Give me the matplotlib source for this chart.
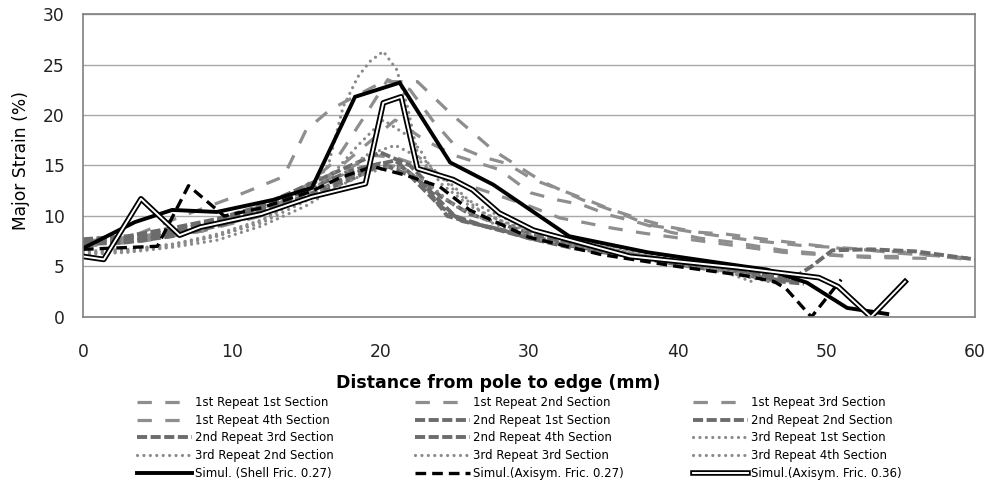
import matplotlib
matplotlib.use("Agg")
import matplotlib.pyplot as plt
import matplotlib.patheffects as pe

plt.rcParams['font.family'] = ['DejaVu Sans']

# ---- data ----
labels = ["1st Repeat 1st Section", "1st Repeat 2nd Section", "1st Repeat 3rd Section",
          "1st Repeat 4th Section", "2nd Repeat 1st Section", "2nd Repeat 2nd Section",
          "2nd Repeat 3rd Section", "2nd Repeat 4th Section", "3rd Repeat 1st Section",
          "3rd Repeat 2nd Section", "3rd Repeat 3rd Section", "3rd Repeat 4th Section",
          "Simul. (Shell Fric. 0.27)", "Simul.(Axisym. Fric. 0.27)", "Simul.(Axisym. Fric. 0.36)"]

r1s1_x = [0, 3, 6.5, 10, 13.5, 15, 16.6, 18.5, 20.2, 22.5, 24.7, 27.6, 30.9, 33.6, 35.9, 38.1, 41.5, 44.9, 48.2, 51.6, 55, 60]
r1s1_y = [7.0, 7.8, 9.9, 11.8, 13.9, 18.5, 20.5, 22.0, 23.3, 23.3, 20.2, 16.5, 13.4, 11.6, 10.4, 9.1, 8.3, 7.6, 7.1, 6.8, 6.3, 5.8]
r1s2_x = [0, 4, 8, 12, 15, 17, 19, 20.5, 22, 23.5, 25, 27, 28.5, 30.3, 32.1, 33.9, 35.6, 37.7, 39.5, 41.3, 43.3, 46.4, 50.9, 55.4, 60]
r1s2_y = [7.5, 8.0, 9.0, 11.0, 13.0, 15.5, 20.0, 23.5, 22.5, 19.5, 17.0, 15.8, 15.2, 13.6, 12.6, 11.6, 10.6, 9.6, 8.9, 8.4, 8.2, 7.6, 6.8, 6.4, 5.6]
r1s3_x = [0, 4, 8, 12, 15, 17, 19, 21, 23, 25, 28, 30.1, 31.9, 33.6, 35.4, 37.5, 39.5, 41.5, 43.7, 47.1, 50.9, 53.1, 55]
r1s3_y = [7.2, 7.8, 8.5, 10.5, 12.5, 14.5, 17.0, 19.5, 17.5, 16.0, 14.6, 12.3, 11.6, 11.1, 10.1, 9.3, 8.4, 7.8, 7.4, 6.6, 6.1, 6.0, 6.0]
r1s4_x = [0, 4, 8, 12, 15, 17, 19.5, 21, 23, 25, 27, 30, 32.1, 33.9, 35.6, 37.7, 39.7, 43.7, 47.1, 52.7, 57]
r1s4_y = [7.0, 7.5, 8.5, 10.0, 12.5, 14.0, 16.0, 15.8, 14.8, 13.5, 12.5, 11.0, 9.8, 9.3, 8.8, 8.3, 7.9, 7.1, 6.4, 5.9, 5.8]

r2s1_x = [0, 3, 6, 9, 12, 15, 18, 20, 22, 24, 25.5, 28, 30, 33, 36, 40, 44, 46, 47.5, 49, 50.4, 53, 56, 60]
r2s1_y = [7.6, 7.8, 8.5, 9.5, 10.8, 12.5, 14.5, 15.2, 14.0, 11.0, 9.5, 8.7, 7.8, 7.0, 6.3, 5.5, 4.5, 3.8, 3.6, 5.0, 6.6, 6.7, 6.5, 5.7]
r2s2_x = [0, 3, 6, 9, 12, 15, 18, 19.5, 21, 23, 25, 27, 30, 33, 36, 40, 44, 47, 48.5]
r2s2_y = [7.4, 7.5, 8.2, 9.2, 10.5, 12.0, 14.0, 15.0, 15.5, 13.0, 10.0, 9.0, 7.8, 6.8, 6.2, 5.2, 4.3, 3.5, 3.3]
r2s3_x = [0, 3, 6, 9, 12, 15, 18, 20, 22, 24, 26, 29, 32, 36, 40, 44, 46]
r2s3_y = [7.7, 8.0, 8.8, 9.7, 11.0, 13.0, 15.0, 16.3, 15.0, 12.0, 10.2, 8.8, 7.5, 6.4, 5.5, 4.6, 4.2]
r2s4_x = [0, 3, 6, 9, 12, 15, 18, 20, 21.5, 23, 24.5, 27, 30, 34, 38, 42, 45, 48]
r2s4_y = [7.2, 7.4, 8.0, 9.0, 10.2, 11.8, 13.6, 15.0, 14.8, 13.0, 10.0, 9.0, 8.0, 6.8, 5.8, 5.0, 4.3, 3.6]

r3s1_x = [0, 3, 6, 9, 12, 15, 16.5, 17.5, 18.5, 19.3, 20.2, 21.1, 21.8, 22.6, 24.5, 26, 28, 30, 33, 36, 40, 44, 47]
r3s1_y = [6.3, 6.5, 7.0, 8.0, 9.5, 12.0, 15.0, 20.8, 23.8, 25.3, 26.3, 24.5, 21.0, 15.5, 13.5, 11.5, 10.0, 8.8, 7.6, 6.6, 5.4, 4.3, 3.2]
r3s2_x = [0, 3, 6, 9, 12, 15, 17, 18.5, 20.2, 21.8, 22.7, 24, 26, 28, 30, 33, 37, 41.5, 45]
r3s2_y = [6.5, 6.7, 7.2, 8.2, 9.6, 12.0, 14.5, 17.0, 19.5, 18.0, 16.5, 13.3, 11.0, 9.6, 8.6, 7.8, 6.5, 5.3, 3.5]
r3s3_x = [0, 3, 6, 9, 12, 15, 17, 19, 21, 23, 25, 27, 30, 34, 38, 42, 46]
r3s3_y = [6.4, 6.6, 7.2, 8.0, 9.3, 11.5, 13.5, 16.0, 17.0, 15.5, 12.5, 10.2, 8.4, 7.2, 6.0, 5.0, 3.8]
r3s4_x = [0, 3, 6, 9, 12, 15, 17, 19, 21, 23, 25, 28, 31, 35, 39, 43, 46.5]
r3s4_y = [6.2, 6.4, 6.9, 7.6, 9.0, 11.0, 12.8, 14.2, 15.0, 13.5, 11.0, 9.0, 7.6, 6.5, 5.5, 4.5, 3.4]

shell_x = [0, 3.5, 6, 9, 12.8, 15.4, 18.3, 21.3, 24.7, 27.6, 32.7, 38, 44.5, 46, 48.7, 51.4, 54.1]
shell_y = [6.8, 9.4, 10.6, 10.4, 11.6, 12.8, 21.8, 23.2, 15.3, 13.1, 8.0, 6.4, 5.0, 4.7, 3.4, 0.9, 0.3]
axi27_x = [0, 5, 7.1, 9.5, 12, 15.3, 17.3, 19.5, 21.8, 24, 26, 30, 34.8, 40, 44.5, 46.5, 47.3, 49, 51]
axi27_y = [6.7, 7.0, 13.0, 10.0, 10.8, 12.4, 13.8, 14.9, 14.0, 12.9, 10.6, 7.9, 6.2, 5.0, 4.1, 3.5, 2.8, 0.0, 3.7]
axi36_x = [0, 1.4, 3.9, 6.5, 7.9, 12, 15.4, 19, 20.2, 21.4, 22.5, 24.9, 26.2, 28, 30.3, 36.8, 44, 49.5, 50.8, 53, 55.3]
axi36_y = [6.0, 5.7, 11.7, 8.1, 8.9, 10.2, 11.9, 13.2, 21.2, 21.8, 14.7, 13.6, 12.6, 10.3, 8.6, 6.0, 4.9, 3.9, 3.0, 0.0, 3.5]

x_ticks = [0, 10, 20, 30, 40, 50, 60]
y_ticks = [0, 5, 10, 15, 20, 25, 30]

# ---- drawing ----
fig = plt.figure(figsize=(9.89, 4.83), dpi=100)
ax = fig.add_axes([0.0839, 0.3437, 0.9019, 0.6273])

c1 = "#8e8e8e"
c2 = "#6c6c6c"
c3 = "#8a8a8a"

series = [(r1s1_x, r1s1_y), (r1s2_x, r1s2_y), (r1s3_x, r1s3_y), (r1s4_x, r1s4_y),
          (r2s1_x, r2s1_y), (r2s2_x, r2s2_y), (r2s3_x, r2s3_y), (r2s4_x, r2s4_y),
          (r3s1_x, r3s1_y), (r3s2_x, r3s2_y), (r3s3_x, r3s3_y), (r3s4_x, r3s4_y)]

handles = []
for i, (xs, ys) in enumerate(series):
    if i < 4:
        h, = ax.plot(xs, ys, color=c1, lw=2.3, ls=(0, (4.5, 4.2)), dash_capstyle='butt')
    elif i < 8:
        h, = ax.plot(xs, ys, color=c2, lw=2.8, ls=(0, (2.6, 0.9)), dash_capstyle='butt')
    else:
        h, = ax.plot(xs, ys, color=c3, lw=2.3, ls=(0, (0.01, 2.0)), dash_capstyle='round')
    handles.append(h)

h, = ax.plot(shell_x, shell_y, color="black", lw=2.8, solid_joinstyle='miter')
handles.append(h)
h, = ax.plot(axi27_x, axi27_y, color="black", lw=2.4, ls=(0, (3.2, 1.8)))
handles.append(h)
h, = ax.plot(axi36_x, axi36_y, color="white", lw=1.4,
             path_effects=[pe.Stroke(linewidth=4.0, foreground="black"), pe.Normal()])
handles.append(h)

ax.set_xlim(0, 60)
ax.set_ylim(0, 30)
ax.set_xticks(x_ticks)
ax.set_yticks(y_ticks)
ax.tick_params(length=0, labelsize=12.3, colors="#222222")
ax.tick_params(axis="x", pad=19)
ax.tick_params(axis="y", pad=13)
ax.yaxis.grid(True, color="#a8a8a8", lw=1.0)
ax.set_axisbelow(True)
for s in ax.spines.values():
    s.set_color("#808080")
    s.set_linewidth(1.2)

fig.text(21 / 989, 1 - 161 / 483, "Major Strain (%)", fontsize=12.3, rotation=90,
         ha="center", va="center")
fig.text(498 / 989, 1 - 383 / 483, "Distance from pole to edge (mm)", fontsize=12.5,
         fontweight="bold", ha="center", va="center")

# Excel-style legend: three columns, filled row by row
col_x = [137 / 989, 415 / 989, 693 / 989]
for c in range(3):
    idx = [c + 3 * r for r in range(5)]
    fig.legend([handles[i] for i in idx], [labels[i] for i in idx],
               loc="upper left", bbox_to_anchor=(col_x[c], 1 - 396 / 483),
               frameon=False, fontsize=8.5, handlelength=4.7, handletextpad=0.2,
               labelspacing=0.40, borderpad=0, borderaxespad=0)

fig.savefig("out.png", dpi=100)
